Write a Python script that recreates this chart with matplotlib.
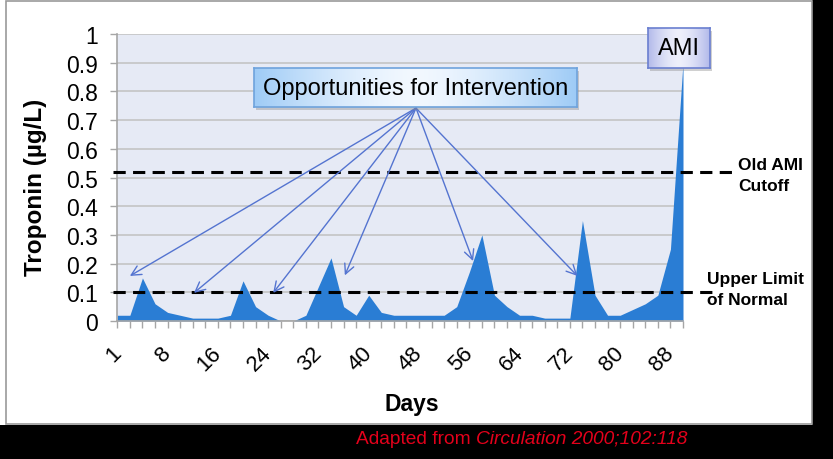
import numpy as np
import matplotlib
matplotlib.use("Agg")
import matplotlib.pyplot as plt
import matplotlib.transforms as mtransforms
from matplotlib.patches import Rectangle

plt.rcParams['font.family'] = ['Liberation Sans', 'DejaVu Sans']

# Day categories (first day, then every second day)
days = [1, 2, 4, 6, 8, 10, 12, 14, 16, 18, 20, 22, 24, 26, 28, 30, 32, 34, 36, 38,
        40, 42, 44, 46, 48, 50, 52, 54, 56, 58, 60, 62, 64, 66, 68, 70, 72, 74, 76,
        78, 80, 82, 84, 86, 88, 90]
# Troponin level (ug/L) per category
troponin = [0.02, 0.02, 0.15, 0.06, 0.03, 0.02, 0.01, 0.01, 0.01, 0.02,
            0.14, 0.05, 0.02, 0.0, 0.0, 0.02, 0.12, 0.22, 0.05, 0.02,
            0.09, 0.03, 0.02, 0.02, 0.02, 0.02, 0.02, 0.05, 0.17, 0.30,
            0.09, 0.05, 0.02, 0.02, 0.01, 0.01, 0.01, 0.35, 0.09, 0.02,
            0.02, 0.04, 0.06, 0.09, 0.25, 0.90]
label_every = 4

old_ami_cutoff = 0.52
upper_limit_normal = 0.1

# arrow targets (category index, troponin) for "Opportunities for Intervention"
arrow_origin = (23.76, 0.742)
arrow_targets = [(1.0, 0.157), (6.1, 0.098), (12.4, 0.098),
                 (18.1, 0.159), (28.3, 0.209), (36.6, 0.157)]

AREA = '#2a7dd4'
ARROW = '#5474d0'
GRAY = '#a6a6a6'

W, H = 833, 460
fig = plt.figure(figsize=(W / 100, H / 100), dpi=100, facecolor='white')

# slide frame: black strips on right / bottom, gray border around white area
fig.patches.append(Rectangle((812 / W, 0), 1 - 812 / W, 1, transform=fig.transFigure,
                             facecolor='black', edgecolor='none', zorder=-3))
fig.patches.append(Rectangle((0, 0), 1, 1 - 426 / H, transform=fig.transFigure,
                             facecolor='black', edgecolor='none', zorder=-3))
fig.patches.append(Rectangle((6 / W, 1 - 425 / H), 806 / W, 423 / H, transform=fig.transFigure,
                             facecolor='white', edgecolor='#9a9a9a', lw=1.2, zorder=-2))

ax = fig.add_axes([117.3 / W, 138 / H, 565.7 / W, 287 / H])
x = np.arange(len(days))
ax.fill_between(x, troponin, color=AREA, lw=0, zorder=2)
ax.set_xlim(0, len(days) - 1)
ax.set_ylim(0, 1)
ax.set_facecolor('#e6eaf5')

ax.set_yticks(np.arange(0, 1.01, 0.1))
ax.set_yticklabels([f'{v:g}' for v in np.arange(0, 1.01, 0.1).round(1)], fontsize=16.5)
ax.yaxis.grid(True, color='#c4c4c4', lw=1.2)
ax.set_axisbelow(True)

ax.set_xticks(x)
ax.set_xticklabels([str(d) if i % label_every == 0 else '' for i, d in enumerate(days)],
                   rotation=45, ha='right', va='top', rotation_mode='anchor', fontsize=16)
ax.tick_params(axis='both', direction='out', length=5, color=GRAY, width=1)
ax.tick_params(axis='x', pad=10)
ax.tick_params(axis='y', pad=9)
# nudge the rotated day labels a little left, like the original
shift = mtransforms.ScaledTranslation(-7 / 100, 0, fig.dpi_scale_trans)
for lab in ax.get_xticklabels():
    lab.set_transform(lab.get_transform() + shift)
for s in ['top', 'right']:
    ax.spines[s].set_visible(False)
for s in ['left', 'bottom']:
    ax.spines[s].set_color(GRAY)
    ax.spines[s].set_linewidth(1.2)

ax.set_ylabel('Troponin (µg/L)', fontsize=17.5, fontweight='bold')
ax.yaxis.set_label_coords(-0.124, 0.47)
fig.text(412 / W, 1 - 405 / H, 'Days', ha='center', va='center', fontsize=16.5, fontweight='bold')

# reference lines, running out past the plot area
ax.plot([-0.35, 48.9], [old_ami_cutoff] * 2, color='black', lw=2.2, dashes=(4, 2.4),
        clip_on=False, zorder=4)
ax.plot([-0.35, 47.6], [upper_limit_normal] * 2, color='black', lw=2.2, dashes=(4, 2.4),
        clip_on=False, zorder=4)
ax.text(49.4, 0.508, 'Old AMI\nCutoff', fontsize=12.5, fontweight='bold', ha='left',
        va='center', linespacing=1.5, clip_on=False)
ax.text(46.9, 0.111, 'Upper Limit\nof Normal', fontsize=12.5, fontweight='bold', ha='left',
        va='center', linespacing=1.5, clip_on=False)

for tx, ty in arrow_targets:
    ax.annotate('', xy=(tx, ty), xytext=arrow_origin, annotation_clip=False,
                arrowprops=dict(arrowstyle='->,head_length=0.7,head_width=0.35', color=ARROW,
                                lw=1.0, shrinkA=0, shrinkB=0, mutation_scale=10), zorder=5)


def gradient_box(rect, edge_col, mid_col, border, text, fs):
    # drop shadow then a box with a horizontal colour gradient
    l, b, w, h = rect
    fig.patches.append(Rectangle((l + 2 / W, b - 3 / H), w, h, transform=fig.transFigure,
                                 facecolor='#8a8a8a', alpha=0.4, edgecolor='none', zorder=3))
    bx = fig.add_axes(rect, zorder=6)
    t = np.abs(np.linspace(-1, 1, 200))
    c0 = np.array(matplotlib.colors.to_rgb(mid_col))
    c1 = np.array(matplotlib.colors.to_rgb(edge_col))
    img = c0[None, :] + (c1 - c0)[None, :] * (t ** 1.5)[:, None]
    bx.imshow(img[None, :, :], aspect='auto', extent=(0, 1, 0, 1))
    bx.set_xticks([])
    bx.set_yticks([])
    for s in bx.spines.values():
        s.set_color(border)
        s.set_linewidth(1.2)
    bx.text(0.5, 0.5, text, ha='center', va='center', fontsize=fs, transform=bx.transAxes)


gradient_box([254 / W, 1 - 108 / H, 323 / W, 39 / H], '#9ecbf6', '#f2f8ff', '#6fa3dc',
             'Opportunities for Intervention', 17)
gradient_box([648 / W, 1 - 69 / H, 62 / W, 40 / H], '#b2b9ea', '#eef0fb', '#6a7fd0',
             'AMI', 17)

# source caption on the black strip
t1 = fig.text(356 / W, 1 - 444 / H, 'Adapted from ', color='#e4001b', fontsize=13.8,
              va='baseline', ha='left')
ax.annotate('Circulation 2000;102:118', xy=(1, 0), xycoords=t1, ha='left', va='bottom',
            color='#e4001b', fontsize=13.8, style='italic', annotation_clip=False)

plt.savefig('out.png', dpi=100, facecolor=fig.get_facecolor())
plt.close()
